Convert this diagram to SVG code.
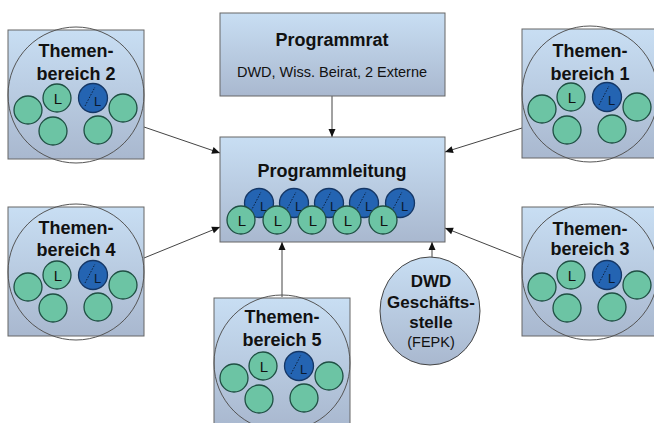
<svg xmlns="http://www.w3.org/2000/svg" xmlns:xlink="http://www.w3.org/1999/xlink" width="654" height="423" viewBox="0 0 654 423">
<style>
.t{font-family:"Liberation Sans",Arial,sans-serif;fill:#111;text-anchor:middle}
.b{font-weight:bold;font-size:18px}
.sm{font-size:14.5px}
.box{stroke:#666;stroke-width:1;fill:url(#bg)}
.big{fill:none;stroke:#555;stroke-width:1}
.tl{fill:#6cc4a4;stroke:#1f4f43;stroke-width:1.3}
.dk{fill:#2464b2;stroke:#153766;stroke-width:1.3}
.dot{stroke:#0a1a30;stroke-width:0.9;stroke-dasharray:1.5 1.5;fill:none}
.lt{font-family:"Liberation Sans",Arial,sans-serif;font-size:15px;fill:#111;text-anchor:middle}
.ld{font-family:"Liberation Sans",Arial,sans-serif;font-size:13px;fill:#0a1a30;text-anchor:middle}
.con{stroke:#444;stroke-width:1;fill:none;marker-end:url(#ah)}
</style>
<defs>
<linearGradient id="bg" x1="0" y1="0" x2="0" y2="1">
<stop offset="0" stop-color="#c8def3"/>
<stop offset="1" stop-color="#a9b8cf"/>
</linearGradient>
<marker id="ah" markerUnits="userSpaceOnUse" markerWidth="10" markerHeight="10" viewBox="0 0 10 10" refX="9" refY="5" orient="auto">
<path d="M1,1.5 L9,5 L1,8.5 Z" fill="#111"/>
</marker>
<g id="tl">
<circle class="tl" r="14"/>
<text class="lt" x="1" y="5.5">L</text>
</g>
<g id="dk">
<circle class="dk" r="14.5"/>
<path class="dot" d="M-8,8 L2,-11"/>
<text class="ld" x="4.5" y="7.5">L</text>
</g>
<g id="tb">
<rect class="box" x="-49" y="-68" width="136" height="129"/>
<circle class="big" cx="19" cy="-3" r="68"/>
<use xlink:href="#tl" x="0" y="0"/>
<use xlink:href="#dk" x="36" y="0"/>
<circle class="tl" cx="-29" cy="12" r="14"/>
<circle class="tl" cx="66" cy="10" r="14"/>
<circle class="tl" cx="-4" cy="33" r="14"/>
<circle class="tl" cx="41" cy="32" r="14"/>
</g>
</defs>

<g id="connectors">
<line class="con" x1="332" y1="96" x2="332" y2="137"/>
<line class="con" x1="144" y1="127" x2="220" y2="153"/>
<line class="con" x1="144" y1="258" x2="220" y2="227"/>
<line class="con" x1="522" y1="128" x2="445" y2="152"/>
<line class="con" x1="521" y1="258" x2="445" y2="228"/>
<line class="con" x1="282" y1="297" x2="282" y2="242"/>
<line class="con" x1="432" y1="257" x2="432" y2="242"/>
</g>

<g id="programmrat">
<rect class="box" x="220" y="13" width="225" height="83"/>
<text class="t b" x="332" y="46">Programmrat</text>
<text class="t sm" x="332" y="77">DWD, Wiss. Beirat, 2 Externe</text>
</g>

<g id="programmleitung">
<rect class="box" x="220" y="137" width="225" height="105"/>
<text class="t b" x="332" y="177">Programmleitung</text>
<use xlink:href="#dk" x="259" y="203"/>
<use xlink:href="#dk" x="294" y="203"/>
<use xlink:href="#dk" x="329" y="203"/>
<use xlink:href="#dk" x="364" y="203"/>
<use xlink:href="#dk" x="400" y="203"/>
<use xlink:href="#tl" x="241" y="220"/>
<use xlink:href="#tl" x="277" y="220"/>
<use xlink:href="#tl" x="312" y="220"/>
<use xlink:href="#tl" x="347" y="220"/>
<use xlink:href="#tl" x="383" y="220"/>
</g>

<g id="themenbereich2" transform="translate(57,98)">
<use xlink:href="#tb"/>
<text class="t b" x="19" y="-41">Themen-</text>
<text class="t b" x="19" y="-18">bereich 2</text>
</g>

<g id="themenbereich4" transform="translate(57,275)">
<use xlink:href="#tb"/>
<text class="t b" x="19" y="-41">Themen-</text>
<text class="t b" x="19" y="-19">bereich 4</text>
</g>

<g id="themenbereich1" transform="translate(571,97)">
<use xlink:href="#tb"/>
<text class="t b" x="19" y="-40">Themen-</text>
<text class="t b" x="19" y="-17">bereich 1</text>
</g>

<g id="themenbereich3" transform="translate(571,275)">
<use xlink:href="#tb"/>
<text class="t b" x="19" y="-40">Themen-</text>
<text class="t b" x="19" y="-20">bereich 3</text>
</g>

<g id="themenbereich5" transform="translate(263,366)">
<use xlink:href="#tb"/>
<text class="t b" x="19" y="-43">Themen-</text>
<text class="t b" x="19" y="-20">bereich 5</text>
</g>

<g id="dwd">
<ellipse cx="430" cy="311" rx="50" ry="54" fill="url(#bg)" stroke="#444" stroke-width="1"/>
<text class="t" x="431" y="287" font-size="17" font-weight="bold">DWD</text>
<text class="t" x="431" y="308" font-size="17" font-weight="bold">Geschäfts-</text>
<text class="t" x="431" y="328" font-size="17" font-weight="bold">stelle</text>
<text class="t" x="431" y="347" font-size="14.5">(FEPK)</text>
</g>
</svg>
